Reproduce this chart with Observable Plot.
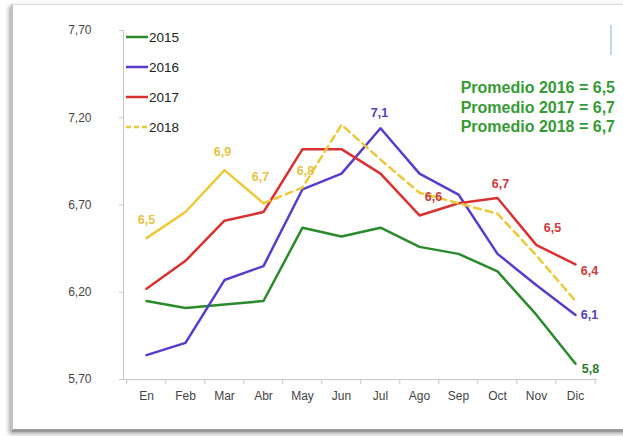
<!DOCTYPE html>
<html><head><meta charset="utf-8">
<script src="https://cdn.jsdelivr.net/npm/d3@7"></script>
<script src="https://cdn.jsdelivr.net/npm/@observablehq/plot@0.6"></script>
<style>
html,body{margin:0;padding:0;background:#fff;}
body{position:relative;width:623px;height:436px;overflow:hidden;font-family:"Liberation Sans",Arial,sans-serif;}
#frame{position:absolute;left:11px;top:4px;width:640px;height:424px;border-top:1px solid #dcdcdc;border-left:2px solid #c4c4c4;border-bottom:3px solid #9a9a9a;box-shadow:-2px 2px 4px rgba(0,0,0,0.35);background:#fff;}
#chart{position:absolute;left:0;top:0;}
#legend{position:absolute;left:126px;top:22px;font-size:13.5px;color:#222;}
#legend .row{height:30px;display:flex;align-items:center;}
#legend svg{margin-right:1px;}
#prom{position:absolute;right:8px;top:78px;font-size:16px;line-height:19.5px;font-weight:bold;color:#369a36;text-align:right;}
#mark{position:absolute;left:610px;top:25px;width:2px;height:30px;background:#c9d6e6;}
</style></head>
<body>
<div id="frame"></div>
<div id="chart"></div>
<div id="legend"></div>
<div id="prom"></div>
<div id="mark"></div>
<script>
const months = ["En","Feb","Mar","Abr","May","Jun","Jul","Ago","Sep","Oct","Nov","Dic"];
const years = ["2015","2016","2017","2018"];
const v2015 = [6.15,6.11,6.13,6.15,6.57,6.52,6.57,6.46,6.42,6.32,6.07,5.79];
const v2016 = [5.84,5.91,6.27,6.35,6.79,6.88,7.14,6.88,6.76,6.42,6.24,6.07];
const v2017 = [6.22,6.38,6.61,6.66,7.02,7.02,6.88,6.64,6.71,6.74,6.47,6.36];
const v2018 = [6.51,6.66,6.90,6.71,6.80,7.16,6.96,6.77,6.71,6.65,6.41,6.15];
const yTicks = [5.7,6.2,6.7,7.2,7.7];
const averages = ["Promedio 2016 = 6,5","Promedio 2017 = 6,7","Promedio 2018 = 6,7"];
// point labels: series, month, text
const pointLabels = [
  ["2018","En","6,5"],["2018","Mar","6,9"],["2018","Abr","6,7"],["2018","May","6,8"],
  ["2016","Jul","7,1"],["2017","Ago","6,6"],["2017","Oct","6,7"],["2017","Nov","6,5"],
  ["2017","Dic","6,4"],["2016","Dic","6,1"],["2015","Dic","5,8"]
];

// styling
const lineColors = ["#2b8a2b","#5a3ccc","#d83232","#ecc93a"];
const labelColors = {"2015":"#2b7a2b","2016":"#5540b8","2017":"#cc3a3a","2018":"#e3c444"};
const labelOffsets = [[0,-18],[-2,-18],[-3,-26],[3,-17],[-1,-15],[14,-18],[3,-14],[16,-17],[14,7],[14,0],[15,5]];

const series = [v2015,v2016,v2017,v2018];
const rows = years.flatMap((y,i)=>months.map((m,j)=>({year:y,month:m,value:series[i][j],idx:j})));
const valueOf = (y,m)=>series[years.indexOf(y)][months.indexOf(m)];

const W=623,H=436,ML=123,MR=26,MT=30,MB=57;
const step=(W-ML-MR)/months.length;
const fmt = d=>d.toFixed(2).replace(".",",");

const marks = [
  Plot.ruleY([5.7],{stroke:"#c8c8c8"}),
  Plot.axisX({tickSize:0,tickPadding:12,fontSize:12,fill:"#444"}),
  Plot.axisX({ticks:months,tickSize:5,tickFormat:()=>"",stroke:"#c8c8c8",dx:-step/2}),
  Plot.axisX({ticks:[months[months.length-1]],tickSize:5,tickFormat:()=>"",stroke:"#c8c8c8",dx:step/2}),
  Plot.axisY({ticks:yTicks,tickFormat:fmt,tickSize:4,tickPadding:28,stroke:"#c8c8c8",fontSize:12,fill:"#444"}),
  Plot.frame({anchor:"left",stroke:"#c8c8c8"}),
  Plot.line(rows.filter(d=>d.year!=="2018"),{x:"month",y:"value",z:"year",stroke:"year",strokeWidth:2.5}),
  Plot.line(rows.filter(d=>d.year==="2018"&&d.idx<=3),{x:"month",y:"value",stroke:"year",strokeWidth:2.5}),
  Plot.line(rows.filter(d=>d.year==="2018"&&d.idx>=3),{x:"month",y:"value",stroke:"year",strokeWidth:2.5,strokeDasharray:"7,5"}),
  ...pointLabels.map((l,i)=>Plot.text([l],{x:d=>d[1],y:d=>valueOf(d[0],d[1]),text:d=>d[2],
     fill:labelColors[l[0]],fontWeight:"bold",fontSize:12.5,dx:labelOffsets[i][0],dy:labelOffsets[i][1],
     fontFamily:"'Liberation Sans Narrow','Liberation Sans',Arial,sans-serif"}))
];

const chart = Plot.plot({
  width:W,height:H,marginLeft:ML,marginRight:MR,marginTop:MT,marginBottom:MB,
  style:{background:"transparent",fontFamily:"'Liberation Sans',Arial,sans-serif",fontSize:"12px",color:"#444"},
  x:{type:"point",domain:months,padding:0.5,label:null,axis:null},
  y:{domain:[5.7,7.7],label:null,axis:null},
  color:{domain:years,range:lineColors},
  marks
});
document.getElementById("chart").appendChild(chart);

const leg = document.getElementById("legend");
years.forEach((y,i)=>{
  const row=document.createElement("div");row.className="row";
  const dash = y==="2018" ? 'stroke-dasharray="5,3"' : '';
  row.innerHTML=`<svg width="22" height="4"><line x1="0" y1="2" x2="22" y2="2" stroke="${lineColors[i]}" stroke-width="2.5" ${dash}/></svg><span>${y}</span>`;
  leg.appendChild(row);
});
document.getElementById("prom").innerHTML = averages.map(t=>`<div>${t}</div>`).join("");
</script>
</body></html>
